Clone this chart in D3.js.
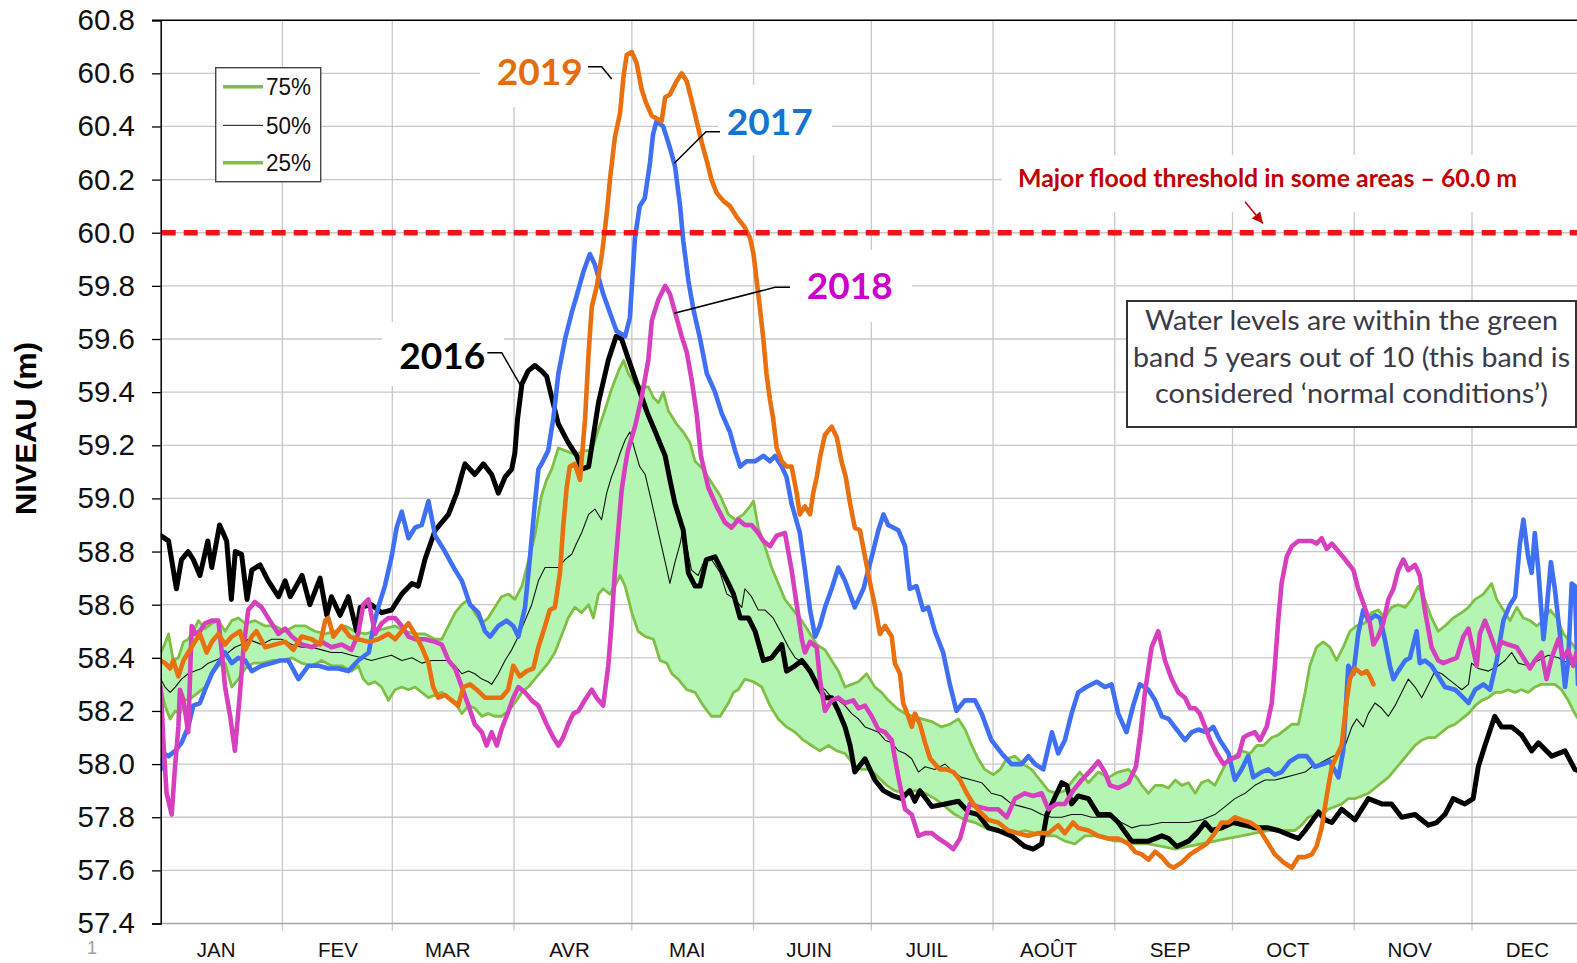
<!DOCTYPE html>
<html><head><meta charset="utf-8">
<script src="https://cdn.jsdelivr.net/npm/d3@7"></script>
<style>body{margin:0;background:#fff;} svg{display:block;}</style>
</head><body>
<svg id="c" width="1577" height="963"></svg>
<script>
// ---------- DATA ----------
const monthLabels = ["JAN","FEV","MAR","AVR","MAI","JUIN","JUIL","AOÛT","SEP","OCT","NOV","DEC"];
const monthStarts = [0,31,59,90,120,151,181,212,243,273,304,334];
const yTicks = [57.4,57.6,57.8,58.0,58.2,58.4,58.6,58.8,59.0,59.2,59.4,59.6,59.8,60.0,60.2,60.4,60.6,60.8];
const threshold = 60.0;
const legendItems = ["75%","50%","25%"];
const seriesNames = ["2016","2017","2018","2019"];

// [day of year, level m]
const p75 = [[0,58.42],[1,58.45],[2,58.49],[3.2,58.39],[4.5,58.40],[5.8,58.46],[7,58.47],[8.3,58.50],[9.6,58.54],[11.3,58.51],[13,58.53],[14.7,58.54],[16.4,58.50],[18.1,58.54],[19.8,58.55],[21.5,58.53],[24,58.54],[26.6,58.52],[29.1,58.52],[31.7,58.50],[34.2,58.52],[36.8,58.52],[39.3,58.50],[41.9,58.49],[44.4,58.50],[47,58.52],[49.5,58.50],[52,58.49],[54.6,58.50],[57.1,58.51],[59.7,58.52],[62.2,58.50],[64.8,58.49],[67.3,58.49],[69.9,58.47],[71.6,58.47],[73.3,58.52],[75,58.57],[76.7,58.60],[78.4,58.62],[80,58.57],[81.8,58.53],[83.4,58.55],[85.1,58.59],[86.8,58.63],[88.6,58.64],[90.2,58.62],[92,58.67],[93.6,58.76],[95.3,58.86],[97,59.01],[98.3,59.07],[99.6,59.11],[101.3,59.19],[103,59.18],[104.7,59.17],[106.4,59.17],[108,59.18],[109.8,59.18],[111.5,59.26],[113.1,59.33],[114.8,59.41],[116.6,59.48],[117.9,59.52],[119.1,59.47],[120.8,59.43],[122.5,59.42],[124.2,59.42],[125.5,59.38],[126.8,59.36],[128,59.40],[129.3,59.33],[131.4,59.28],[133.1,59.25],[134.8,59.21],[136.1,59.14],[138.2,59.11],[140.3,59.06],[142.5,59.01],[144.6,58.94],[146.3,58.92],[148.4,58.94],[150.1,58.97],[151,58.99],[152.2,58.89],[153.9,58.82],[155.6,58.74],[157.3,58.68],[159,58.62],[161.1,58.58],[163.3,58.54],[165,58.50],[167.1,58.45],[169.2,58.43],[170.9,58.39],[172.6,58.35],[174.3,58.29],[176,58.30],[177.7,58.31],[179.8,58.34],[181.9,58.29],[183.6,58.27],[185.3,58.24],[187.5,58.21],[189.6,58.19],[191.7,58.18],[193.8,58.17],[196.4,58.16],[198.9,58.14],[201,58.15],[203.2,58.17],[204.9,58.13],[206.6,58.07],[208.2,58.02],[209.9,57.98],[212.1,57.96],[213.8,57.98],[215.5,58.02],[217.6,58.03],[219.7,58.00],[221.8,57.98],[224,57.94],[226.1,57.90],[228.2,57.89],[230.3,57.90],[232.4,57.94],[234.1,57.97],[236.3,57.93],[238.8,57.97],[241.4,57.95],[243.9,57.97],[246.5,57.98],[248.6,57.95],[249.9,57.92],[251.6,57.89],[253.3,57.92],[255,57.92],[256.7,57.91],[258.4,57.94],[260.1,57.92],[261.8,57.93],[263.5,57.89],[265.1,57.93],[266.8,57.94],[268.5,57.92],[270.2,57.97],[271.9,58.02],[273.6,58.03],[275.3,58.05],[277.5,58.04],[279.2,58.07],[280.9,58.07],[283,58.10],[284.7,58.11],[286.4,58.13],[288.1,58.15],[289.8,58.15],[291.5,58.27],[292.7,58.37],[294.4,58.44],[296.1,58.46],[297.8,58.44],[299.5,58.39],[301.2,58.44],[302.9,58.50],[304.6,58.52],[306.7,58.53],[308.4,58.57],[310.1,58.58],[311.8,58.55],[313.5,58.59],[315.2,58.60],[317,58.59],[318.6,58.62],[320.3,58.67],[322,58.62],[323.7,58.55],[325.4,58.50],[327.1,58.52],[329.2,58.55],[331.4,58.57],[333.1,58.59],[334.8,58.62],[336.9,58.64],[339,58.68],[340.3,58.62],[342,58.58],[343.7,58.54],[345.4,58.59],[347.1,58.55],[348.8,58.54],[350.5,58.52],[352.2,58.54],[353.9,58.58],[355.6,58.55],[357.3,58.49],[358.5,58.47],[360.2,58.44],[362,58.40]];

const p25 = [[0,58.29],[1.1,58.22],[2.4,58.17],[3.7,58.20],[4.9,58.19],[6.2,58.24],[7.9,58.25],[9.6,58.27],[11.3,58.29],[13,58.34],[14.7,58.37],[16.4,58.38],[18.1,58.29],[19.8,58.32],[21.5,58.36],[23.6,58.38],[25.7,58.38],[28.3,58.39],[30.8,58.39],[33.4,58.40],[35.9,58.38],[38.5,58.37],[41,58.39],[43.5,58.37],[46.1,58.37],[48.6,58.35],[50.3,58.37],[51.6,58.32],[52.9,58.30],[54.6,58.31],[56.3,58.29],[58,58.24],[59.7,58.28],[61.4,58.29],[63.1,58.28],[64.8,58.29],[66.5,58.27],[68.2,58.25],[69.9,58.26],[71.6,58.27],[73.3,58.25],[75,58.23],[76.7,58.19],[78.4,58.22],[80,58.21],[81.8,58.18],[83.4,58.19],[85.1,58.18],[86.8,58.18],[88.6,58.20],[90.2,58.23],[92,58.27],[93.6,58.29],[95.3,58.32],[97,58.35],[98.7,58.38],[100.4,58.42],[102,58.48],[103.8,58.55],[105.5,58.59],[107.2,58.57],[109,58.60],[110.2,58.55],[111.5,58.64],[112.7,58.66],[114.4,58.64],[115.7,58.67],[117,58.71],[118.3,58.67],[120,58.57],[121.6,58.50],[123.5,58.48],[125.5,58.47],[127.2,58.39],[128.9,58.38],[130.2,58.34],[131.8,58.32],[134,58.28],[136.1,58.27],[138.2,58.22],[140.3,58.18],[142.5,58.18],[144.6,58.23],[145.9,58.27],[147.1,58.28],[148.8,58.32],[151,58.31],[153.1,58.29],[155.2,58.22],[157.3,58.17],[159.4,58.14],[161.6,58.12],[163.7,58.09],[165.8,58.07],[167.9,58.05],[170.1,58.07],[172.2,58.05],[174.3,58.04],[176.4,58.00],[178.5,57.98],[180.7,57.98],[182.8,57.95],[184.9,57.92],[187,57.90],[189.6,57.89],[192.1,57.90],[194.7,57.89],[197.2,57.87],[199.8,57.84],[202.3,57.81],[204.9,57.79],[207.4,57.78],[210,57.76],[212.5,57.75],[215,57.75],[217.6,57.74],[220.1,57.75],[222.7,57.74],[225.2,57.73],[227.8,57.73],[230.3,57.71],[232.9,57.70],[235.4,57.73],[237.9,57.73],[240.5,57.72],[243,57.71],[245.6,57.71],[248.2,57.70],[251.6,57.70],[255,57.69],[258.4,57.68],[261.8,57.69],[265.1,57.70],[268.5,57.71],[271.9,57.72],[275.3,57.73],[278.7,57.74],[282.1,57.75],[285.5,57.75],[288.9,57.75],[290.6,57.77],[292.3,57.80],[294,57.81],[295.7,57.81],[297.4,57.83],[299.1,57.84],[300.8,57.85],[302.5,57.87],[304.2,57.87],[305.9,57.88],[307.6,57.89],[309.3,57.91],[311,57.93],[312.7,57.95],[314.4,57.98],[316.1,58.01],[317.8,58.04],[319.5,58.07],[321.2,58.09],[322.9,58.10],[324.6,58.10],[326.3,58.12],[328,58.14],[329.7,58.15],[331.4,58.17],[333.1,58.19],[334.8,58.22],[336.5,58.24],[338.2,58.25],[339.8,58.27],[341.5,58.27],[343.2,58.28],[344.9,58.27],[346.6,58.28],[348.3,58.27],[350,58.29],[351.7,58.30],[353.4,58.30],[355.1,58.30],[356.8,58.28],[358.5,58.24],[360.2,58.19],[362,58.15]];

const p50 = [[0,58.32],[1.1,58.29],[2.4,58.27],[3.7,58.29],[5.3,58.32],[7,58.34],[8.7,58.35],[10.4,58.36],[12.1,58.38],[13.8,58.39],[15.5,58.40],[17.2,58.42],[18.9,58.44],[20.6,58.45],[22.3,58.47],[24,58.46],[25.7,58.45],[28.3,58.47],[30.8,58.47],[33.4,58.45],[35.9,58.44],[38.5,58.44],[41,58.43],[43.5,58.42],[46.1,58.42],[48.6,58.41],[51.2,58.40],[53.7,58.39],[56.3,58.40],[58.8,58.41],[61.4,58.39],[64,58.40],[66.5,58.38],[69,58.39],[71.6,58.39],[73.3,58.39],[75,58.37],[76.7,58.34],[78.4,58.35],[80,58.34],[81.8,58.32],[83.4,58.31],[84.3,58.30],[86,58.34],[87.7,58.39],[89.4,58.43],[91.1,58.48],[92.8,58.54],[94.5,58.60],[96.2,58.69],[97.9,58.74],[99.6,58.74],[101.3,58.74],[103,58.77],[104.7,58.79],[105.9,58.83],[107.2,58.87],[109,58.94],[110.6,58.96],[112.3,58.92],[113.6,59.02],[114.8,59.08],[116.1,59.13],[117,59.17],[118.3,59.22],[119.5,59.25],[120.8,59.18],[122,59.12],[123.4,59.09],[125,58.99],[126.8,58.87],[128.5,58.76],[129.7,58.68],[131,58.76],[132.3,58.83],[133.1,58.89],[135.2,58.73],[136.9,58.71],[138.6,58.77],[140.3,58.77],[142.5,58.72],[144.2,58.64],[146.3,58.62],[148,58.59],[148.8,58.66],[150.5,58.63],[152.2,58.58],[153.9,58.58],[156,58.55],[158.2,58.49],[159.9,58.44],[161.6,58.40],[163.7,58.38],[165.8,58.34],[167.5,58.30],[169.2,58.28],[170.9,58.25],[172.6,58.24],[174.3,58.22],[176,58.19],[177.7,58.17],[179.4,58.14],[181.1,58.13],[182.8,58.12],[184.5,58.09],[186.2,58.08],[187.9,58.05],[189.6,58.04],[191.3,58.02],[193,57.97],[194.7,57.99],[197.2,57.98],[199.8,58.00],[201.9,57.97],[204,57.95],[206.6,57.94],[209.1,57.93],[211.6,57.89],[214.2,57.88],[216.7,57.85],[219.3,57.84],[221.8,57.83],[224.4,57.81],[226.9,57.80],[229.5,57.80],[232,57.81],[234.6,57.81],[237.1,57.80],[239.7,57.80],[242.2,57.80],[244.7,57.78],[247.3,57.76],[249.8,57.77],[251.6,57.77],[255,57.78],[258.4,57.78],[261.8,57.78],[265.1,57.79],[268.5,57.81],[271.1,57.84],[273.6,57.87],[276.2,57.89],[278.7,57.92],[281.3,57.94],[283.8,57.94],[286.4,57.95],[288.9,57.96],[291.5,57.97],[293.2,57.99],[294.9,58.00],[297.4,58.02],[300,58.04],[301.7,58.07],[303.4,58.14],[304.6,58.17],[306.3,58.14],[307.6,58.19],[309.3,58.23],[311,58.21],[312.7,58.18],[314.4,58.22],[316.1,58.27],[317.8,58.32],[319.5,58.29],[321.2,58.25],[322.9,58.30],[324.6,58.35],[326.3,58.34],[328,58.32],[329.7,58.30],[331.4,58.28],[333.1,58.30],[333.9,58.38],[335.6,58.36],[338.2,58.35],[340.7,58.37],[342.4,58.39],[344.1,58.42],[345.8,58.38],[348.3,58.37],[350.9,58.39],[353.4,58.41],[356,58.40],[358.5,58.38],[360.2,58.37],[362,58.36]];

const y2016 = [[0,58.86],[2,58.84],[4,58.66],[5.3,58.77],[7,58.80],[8.3,58.77],[10,58.71],[12,58.84],[13,58.74],[15,58.90],[16.8,58.84],[18,58.62],[19,58.80],[20.6,58.79],[22,58.62],[23.2,58.73],[25.3,58.75],[27.4,58.69],[30,58.63],[31.7,58.69],[33,58.63],[36,58.71],[38,58.60],[40.6,58.70],[42.3,58.56],[43.5,58.63],[45.7,58.56],[47.8,58.63],[49.9,58.50],[50.8,58.59],[53.7,58.60],[56.3,58.57],[58.8,58.58],[61.4,58.64],[64,58.68],[65.6,58.67],[67.3,58.77],[69.9,58.88],[73.3,58.94],[75.4,59.02],[76.7,59.09],[77.5,59.13],[80,59.09],[82.2,59.13],[84.3,59.09],[86,59.02],[87.7,59.08],[89.4,59.11],[90.2,59.17],[90.9,59.30],[92,59.43],[93.6,59.48],[95.3,59.50],[97,59.48],[98.3,59.46],[99.6,59.38],[101.3,59.28],[103.8,59.21],[106,59.16],[107.2,59.11],[109,59.12],[111.5,59.36],[114,59.52],[116,59.61],[117.4,59.60],[119,59.53],[121.6,59.42],[124,59.32],[126,59.25],[128.5,59.16],[129.7,59.07],[131,58.98],[133.1,58.88],[134.4,58.72],[136.1,58.67],[137.4,58.67],[139,58.77],[141.2,58.78],[142.9,58.73],[144.6,58.68],[145.9,58.64],[147.6,58.55],[149.7,58.55],[151.4,58.50],[153.5,58.39],[155.6,58.40],[158.2,58.45],[159.4,58.35],[161.6,58.37],[163.3,58.39],[165.4,58.35],[167.5,58.29],[169.2,58.25],[170.9,58.25],[172.6,58.20],[174.3,58.14],[175.6,58.07],[176.8,57.97],[179.4,58.02],[181.9,57.94],[184.1,57.90],[186.6,57.88],[188.7,57.87],[190.8,57.90],[192.1,57.86],[193.4,57.90],[196.4,57.84],[199.8,57.85],[203.2,57.86],[205.7,57.82],[208.2,57.81],[210.8,57.76],[213.3,57.75],[216.7,57.73],[220.1,57.69],[222.2,57.68],[224.4,57.70],[225.7,57.81],[227.3,57.86],[229.5,57.93],[230.8,57.92],[232,57.85],[233.7,57.88],[236.3,57.87],[238.8,57.81],[241.8,57.81],[243.9,57.78],[247.3,57.71],[249.8,57.71],[251.6,57.71],[255,57.73],[256.7,57.72],[258.8,57.69],[261.8,57.71],[263.9,57.74],[266,57.78],[267.7,57.75],[270.2,57.76],[273.2,57.78],[276.2,57.77],[278.7,57.76],[282.1,57.76],[284.7,57.75],[288.1,57.73],[289.8,57.72],[291.5,57.75],[294.9,57.82],[296.6,57.79],[298.3,57.78],[300.8,57.83],[304.2,57.79],[307.6,57.87],[311,57.85],[313.5,57.85],[316.1,57.80],[319.5,57.81],[322.9,57.77],[325,57.78],[327.1,57.81],[329.2,57.87],[332.2,57.85],[334.3,57.87],[335.6,57.99],[337.3,58.07],[339.8,58.18],[341.5,58.14],[344.1,58.14],[346.6,58.11],[349.2,58.05],[350.9,58.08],[354.3,58.03],[357.7,58.05],[360.2,57.98],[362,57.97]];

const y2017 = [[0,57.98],[0.7,58.04],[2,58.03],[3.7,58.05],[5.3,58.08],[7,58.14],[8.3,58.22],[10,58.23],[11.3,58.28],[13,58.34],[14.7,58.38],[16.4,58.42],[18.1,58.38],[19.8,58.40],[21.5,58.39],[23.2,58.35],[25.7,58.37],[28.3,58.38],[30.4,58.39],[32.5,58.39],[35.1,58.32],[37.6,58.37],[40.2,58.37],[42.7,58.36],[45.2,58.36],[47.8,58.35],[50.3,58.39],[53,58.42],[54.2,58.52],[55.4,58.59],[57.1,58.67],[58.8,58.78],[60.1,58.89],[61.4,58.95],[63.1,58.85],[64.8,58.89],[66.5,58.90],[68.2,58.99],[69.9,58.86],[72.4,58.80],[75,58.73],[76.7,58.69],[78.8,58.60],[80.9,58.57],[82.6,58.50],[83.9,58.48],[86,58.52],[88.1,58.54],[89.8,58.52],[91.1,58.48],[92.8,58.59],[94,58.77],[95.3,58.98],[96.2,59.11],[97,59.13],[98.7,59.18],[100,59.30],[101.3,59.47],[103,59.60],[104.7,59.70],[105.9,59.76],[107.6,59.85],[109.3,59.92],[110.6,59.88],[112.7,59.77],[114.4,59.70],[116.1,59.63],[118.3,59.61],[119.5,59.68],[120.8,59.98],[122,60.10],[123.3,60.13],[124.6,60.26],[125.4,60.37],[126.3,60.42],[128,60.40],[129.7,60.32],[131,60.25],[132.3,60.10],[133.1,59.97],[134.4,59.82],[135.7,59.71],[137.4,59.60],[139.1,59.47],[141.2,59.40],[142.9,59.32],[145,59.25],[146.3,59.18],[147.6,59.12],[149.2,59.14],[151.4,59.14],[153.5,59.16],[155.2,59.14],[156.5,59.16],[158.2,59.12],[159.4,59.08],[160.7,58.98],[162.8,58.87],[164.1,58.73],[165.4,58.58],[166.7,58.48],[167.9,58.52],[169.2,58.59],[170.9,58.66],[172.6,58.74],[174.3,58.69],[176.8,58.59],[179,58.66],[181.1,58.78],[182.8,58.88],[184.1,58.94],[185.3,58.90],[187.9,58.88],[189.6,58.82],[190.8,58.66],[192.5,58.67],[194.2,58.58],[195.5,58.59],[197.2,58.50],[199.3,58.42],[201,58.30],[202.7,58.20],[204.8,58.24],[207.4,58.24],[209.1,58.19],[211.6,58.09],[214.2,58.04],[216.7,58.00],[219.3,58.00],[221,58.03],[222.7,58.00],[224.8,57.98],[227,58.12],[228.6,58.04],[230.3,58.09],[232,58.19],[233.7,58.27],[235.8,58.29],[238.4,58.31],[240.5,58.29],[242.2,58.30],[243.9,58.19],[246,58.12],[247.7,58.22],[249.4,58.30],[251.6,58.28],[253.3,58.24],[255,58.18],[256.7,58.17],[258.8,58.13],[260.9,58.09],[262.6,58.12],[264.3,58.13],[266.4,58.12],[268.1,58.14],[269.8,58.09],[272,58.04],[273.6,57.94],[275.3,57.98],[277,58.03],[278.3,57.95],[280.4,57.97],[282.1,57.98],[283.8,57.96],[285.5,57.97],[287.6,58.01],[289.8,58.03],[291.9,58.03],[294,57.99],[296.1,58.00],[297.8,58.01],[300,57.95],[301.2,58.05],[302.5,58.37],[303.8,58.34],[305,58.49],[306.3,58.58],[307.6,58.54],[309.3,58.56],[310.6,58.55],[311.8,58.47],[313.1,58.37],[314,58.32],[315.2,58.35],[317,58.39],[318.2,58.40],[319.9,58.50],[320.7,58.38],[322,58.39],[323.7,58.37],[325,58.34],[327.1,58.29],[329.7,58.28],[331.8,58.25],[333.1,58.23],[334.8,58.28],[336.9,58.30],[338.6,58.28],[340.3,58.39],[342,58.54],[343.7,58.60],[345,58.63],[346.2,58.83],[347.1,58.92],[348.3,58.78],[349.2,58.72],[350,58.87],[350.9,58.73],[352.2,58.47],[353,58.58],[354.1,58.76],[355.1,58.66],[356.4,58.49],[357.7,58.29],[358.5,58.39],[359.4,58.68],[360.2,58.67],[361,58.30]];

const y2018 = [[0,58.29],[0.7,58.08],[1.5,57.89],[2.8,57.81],[3.6,57.98],[4.5,58.14],[4.9,58.28],[5.8,58.24],[7,58.12],[7.9,58.52],[8.7,58.49],[10,58.50],[11.3,58.53],[13,58.54],[14.7,58.54],[15.5,58.43],[16.4,58.29],[17.7,58.18],[18.9,58.05],[20.2,58.27],[21.1,58.44],[22.3,58.58],[24,58.61],[25.7,58.59],[27.8,58.54],[30,58.49],[31.7,58.51],[33.4,58.48],[35.9,58.45],[38.5,58.44],[41,58.46],[43.5,58.44],[46.1,58.45],[48.6,58.43],[50.3,58.49],[51.6,58.60],[52.9,58.62],[54.6,58.49],[56.3,58.53],[58,58.55],[59.7,58.55],[61.4,58.52],[63.1,58.48],[64.8,58.47],[67.3,58.47],[69.9,58.46],[71.6,58.45],[73.3,58.39],[75,58.36],[76.7,58.29],[78.4,58.22],[80,58.15],[81.8,58.12],[83,58.07],[84.3,58.12],[85.6,58.07],[86.8,58.13],[88.6,58.20],[89.8,58.25],[91.1,58.29],[92.8,58.27],[94.5,58.24],[96.2,58.22],[98.3,58.15],[100,58.10],[101.3,58.07],[102.5,58.10],[103.8,58.15],[105.1,58.19],[106.4,58.20],[108,58.24],[109.8,58.28],[111,58.25],[112.7,58.22],[114,58.37],[114.8,58.52],[115.7,58.73],[116.6,58.89],[117.4,59.03],[118.3,59.12],[119,59.18],[120.8,59.27],[122.5,59.38],[124.2,59.52],[125.1,59.67],[126.8,59.75],[128.5,59.80],[129.7,59.77],[131.4,59.68],[132.7,59.61],[134,59.55],[135.2,59.45],[136.5,59.32],[137.6,59.16],[139.5,59.04],[141.6,58.97],[143.7,58.91],[145.4,58.89],[147.1,58.92],[148.8,58.90],[150.5,58.90],[152.2,58.87],[153.5,58.84],[155.2,58.82],[156.9,58.86],[159,58.87],[160.7,58.73],[162,58.60],[163.3,58.47],[164.1,58.42],[165.4,58.46],[167.1,58.44],[167.9,58.32],[169.2,58.20],[170.9,58.24],[172.6,58.25],[174.3,58.23],[176.4,58.24],[177.7,58.21],[179.4,58.22],[181.1,58.18],[182.8,58.13],[184.5,58.12],[186.2,58.09],[187.9,57.95],[189.6,57.83],[191.3,57.81],[193,57.73],[194.7,57.74],[196.4,57.74],[198.1,57.72],[200.2,57.70],[201.9,57.68],[203.6,57.72],[204.9,57.79],[206.1,57.85],[208.2,57.84],[210.8,57.83],[213.3,57.83],[215.5,57.80],[217.6,57.87],[220.1,57.89],[222.2,57.88],[224.4,57.89],[226.1,57.83],[228.2,57.85],[230.3,57.85],[232.4,57.90],[234.6,57.94],[237.1,57.98],[238.8,58.01],[240.5,57.97],[241.8,57.92],[243.9,57.91],[246.5,57.93],[248.4,57.99],[249.6,58.12],[250.7,58.27],[252.4,58.44],[254.1,58.50],[255.8,58.39],[257.5,58.32],[259.2,58.27],[260.9,58.25],[262.2,58.21],[263.5,58.21],[264.7,58.19],[266,58.14],[267.3,58.09],[269,58.04],[270.7,58.00],[272.8,58.02],[274.5,58.03],[275.8,58.10],[277,58.11],[278.7,58.12],[280,58.09],[281.7,58.14],[283,58.23],[283.8,58.37],[284.7,58.55],[285.5,58.68],[286.8,58.78],[288.1,58.82],[289.8,58.84],[291.5,58.84],[293.2,58.84],[294.4,58.83],[295.7,58.85],[297,58.81],[298.3,58.83],[300,58.80],[301.7,58.77],[303.8,58.73],[305,58.66],[306.7,58.59],[308,58.53],[308.9,58.45],[310.1,58.48],[311.4,58.53],[312.7,58.62],[314,58.66],[315.2,58.73],[316.5,58.77],[317.8,58.73],[319.5,58.75],[320.7,58.71],[322,58.58],[323.7,58.44],[325.4,58.39],[326.7,58.38],[328.4,58.39],[330.1,58.40],[331.8,58.48],[333.1,58.51],[334.3,58.43],[335.2,58.37],[336,58.49],[337.3,58.54],[338.6,58.49],[340.3,58.42],[341.5,58.46],[343.2,58.45],[345.4,58.44],[347.1,58.40],[348.8,58.36],[350,58.39],[351.7,58.42],[353,58.32],[354.3,58.40],[356,58.47],[357.3,58.40],[358.5,58.43],[359.8,58.37],[360.6,58.42],[362,58.40]];

const y2019 = [[0,58.39],[1.1,58.38],[2.4,58.36],[3.2,58.39],[4.5,58.33],[5.8,58.39],[7,58.42],[8.7,58.46],[10,58.49],[11.7,58.42],[13,58.46],[14.7,58.49],[16.4,58.45],[18.1,58.48],[20.2,58.50],[21.5,58.43],[23.2,58.48],[24.4,58.50],[26.6,58.44],[29.1,58.45],[31.7,58.46],[33.8,58.43],[35.9,58.48],[38.5,58.47],[40.6,58.45],[41.9,58.54],[42.7,58.55],[44,58.48],[46.1,58.52],[48.2,58.48],[50.3,58.47],[53,58.46],[55.4,58.47],[58,58.49],[59.7,58.47],[61.4,58.50],[63.1,58.53],[64.8,58.49],[66.5,58.44],[68.2,58.38],[69.4,58.29],[70.7,58.25],[72.4,58.26],[74.1,58.24],[75.8,58.22],[77.1,58.29],[78.8,58.30],[80.5,58.28],[82.6,58.25],[84.7,58.25],[86.8,58.25],[88.5,58.28],[89.8,58.37],[91.5,58.33],[93.2,58.35],[94.9,58.36],[96.2,58.44],[97.9,58.52],[99.1,58.58],[100.4,58.59],[101.7,58.72],[102.5,58.89],[103.4,59.04],[104.2,59.12],[105.5,59.13],[106.8,59.07],[108.1,59.30],[109,59.55],[109.8,59.72],[111.1,59.80],[112.4,59.92],[113.6,60.07],[114.5,60.21],[115.7,60.36],[117,60.45],[117.9,60.59],[118.7,60.67],[120,60.68],[121.2,60.64],[122.5,60.54],[123.6,60.49],[125.1,60.44],[126.3,60.43],[127.6,60.42],[128.5,60.51],[129.7,60.52],[131.4,60.57],[132.7,60.60],[134,60.57],[135.2,60.50],[136.5,60.42],[137.8,60.34],[139.1,60.27],[140.3,60.20],[141.6,60.15],[143.3,60.12],[145,60.10],[146.7,60.06],[148.8,60.02],[150.1,59.98],[151,59.92],[151.8,59.82],[152.6,59.72],[153.5,59.60],[154.3,59.47],[155.2,59.37],[156,59.30],[156.9,59.19],[158.2,59.14],[159.4,59.12],[160.7,59.12],[162,59.02],[162.8,58.94],[164.1,58.97],[165.4,58.94],[166.2,59.02],[167.1,59.08],[168,59.16],[169.2,59.24],[170.9,59.27],[172.2,59.23],[173.4,59.14],[174.5,59.08],[175.6,58.98],[176.8,58.89],[178.1,58.88],[179.4,58.78],[180.7,58.68],[182,58.59],[183.2,58.49],[184.5,58.52],[186.2,58.48],[187,58.38],[188.3,58.34],[189.1,58.23],[190.4,58.18],[191.3,58.14],[192.1,58.19],[193.4,58.15],[194.7,58.08],[196,58.02],[197.2,58.00],[198.5,57.98],[200.2,57.98],[201.9,57.97],[203.6,57.94],[205.3,57.89],[207,57.85],[208.7,57.82],[210.8,57.79],[213.3,57.78],[215.9,57.75],[218.4,57.74],[221,57.73],[223.5,57.74],[226.1,57.74],[228.6,57.77],[230.3,57.74],[232.4,57.78],[233.7,57.76],[236.3,57.75],[238.8,57.73],[241.4,57.72],[243.9,57.72],[246.5,57.70],[248.2,57.67],[249.9,57.66],[251.6,57.64],[253.3,57.67],[255,57.65],[256.7,57.62],[258,57.61],[260.1,57.63],[262.2,57.66],[264.3,57.68],[266.4,57.70],[268.5,57.74],[270.2,57.78],[272,57.78],[273.6,57.80],[275.3,57.79],[277.5,57.78],[279.6,57.76],[281.7,57.71],[283.8,57.66],[286,57.63],[288.1,57.61],[289.8,57.65],[291.5,57.65],[293.2,57.66],[294.4,57.69],[295.7,57.76],[297,57.88],[298.3,57.99],[299.5,58.03],[300.8,58.07],[302.1,58.24],[302.9,58.32],[304.2,58.36],[305.9,58.34],[307.2,58.35],[308,58.33],[308.9,58.30]];

// ---------- DRAW ----------
const svg = d3.select("#c");
const X0 = 160.7, Y0 = 20.2, Y1 = 923.5, W = 1577;
const x = d3.scaleLinear().domain([0,365]).range([X0, X0 + 365*3.926]);
const y = d3.scaleLinear().domain([57.4,60.8]).range([Y1, Y0]);

svg.append("rect").attr("width",1577).attr("height",963).attr("fill","#fff");
svg.append("defs").html(`
  <clipPath id="plot"><rect x="${X0}" y="${Y0}" width="${W-X0}" height="${Y1-Y0}"/></clipPath>
  <marker id="arr" viewBox="0 0 10 10" refX="10" refY="5" markerUnits="userSpaceOnUse" markerWidth="14" markerHeight="11" orient="auto">
    <path d="M0,0 L10,5 L0,10 z" fill="#c00000"/></marker>`);

const grid = svg.append("g").attr("stroke","#c8c8c8").attr("stroke-width",1.3);
yTicks.filter(v => v > 57.45 && v < 60.75).forEach(v => {
  grid.append("line").attr("x1",X0).attr("x2",W).attr("y1",y(v)).attr("y2",y(v));
});
monthStarts.slice(1).forEach(d => {
  grid.append("line").attr("x1",x(d)).attr("x2",x(d)).attr("y1",Y0).attr("y2",Y1 + 7);
});

// white backgrounds behind annotations
const bg = svg.append("g").attr("fill","#fff");
[[480,21,108,86],[718,85,114,70],[790,250,122,72],[382,322,122,64],[1002,155,575,57]].forEach(r => {
  bg.append("rect").attr("x",r[0]).attr("y",r[1]).attr("width",r[2]).attr("height",r[3]);
});

// text box
svg.append("rect").attr("x",1127).attr("y",301).attr("width",449).attr("height",126)
  .attr("fill","#fff").attr("stroke","#333").attr("stroke-width",2);

const plot = svg.append("g").attr("clip-path","url(#plot)");
const line = d3.line().x(d => x(d[0])).y(d => y(d[1]));

// green band
const bandPath = line(p75) + "L" + line(p25.slice().reverse()).slice(1) + "Z";
plot.append("path").attr("d",bandPath).attr("fill","#b5f5b3").attr("stroke","none");
plot.append("path").attr("d",line(p75)).attr("fill","none").attr("stroke","#7fbf45").attr("stroke-width",2.8).attr("stroke-linejoin","round");
plot.append("path").attr("d",line(p25)).attr("fill","none").attr("stroke","#7fbf45").attr("stroke-width",2.8).attr("stroke-linejoin","round");
plot.append("path").attr("d",line(p50)).attr("fill","none").attr("stroke","#111").attr("stroke-width",1.1).attr("stroke-linejoin","round");

const series = [
  {name:"2016", data:y2016, color:"#000000", w:5},
  {name:"2017", data:y2017, color:"#3f6ff2", w:4.6},
  {name:"2018", data:y2018, color:"#d63fbd", w:4.6},
  {name:"2019", data:y2019, color:"#e8700f", w:4.6}
];
series.forEach(s => {
  plot.append("path").attr("d",line(s.data)).attr("fill","none").attr("stroke",s.color)
    .attr("stroke-width",s.w).attr("stroke-linejoin","round").attr("stroke-linecap","round");
});

// threshold line
svg.append("line").attr("x1",X0+1).attr("x2",W).attr("y1",y(threshold)).attr("y2",y(threshold))
  .attr("stroke","#f01414").attr("stroke-width",5.5).attr("stroke-dasharray","14,8");

// axes
svg.append("line").attr("x1",X0).attr("x2",W).attr("y1",Y1).attr("y2",Y1).attr("stroke","#a6a6a6").attr("stroke-width",1.6);
svg.append("line").attr("x1",152).attr("x2",W).attr("y1",Y0).attr("y2",Y0).attr("stroke","#000").attr("stroke-width",1.4);

const yAxis = d3.axisLeft(y).tickValues(yTicks).tickFormat(d3.format(".1f")).tickSize(8.7).tickPadding(17);
const gy = svg.append("g").attr("transform",`translate(${X0},0)`).call(yAxis);
gy.select(".domain").attr("stroke","#000").attr("stroke-width",1.5);
gy.selectAll(".tick line").attr("stroke","#000").attr("stroke-width",1.3);
gy.selectAll(".tick text").attr("font-family","'Liberation Sans', Arial, sans-serif").attr("font-size",29.5).attr("fill","#111");

const xAxis = d3.axisBottom(x).tickValues(monthStarts.map(d => d + 14))
  .tickFormat((d,i) => monthLabels[i]).tickSize(0).tickPadding(19);
const gx = svg.append("g").attr("transform",`translate(0,${Y1})`).call(xAxis);
gx.select(".domain").remove();
gx.selectAll(".tick text").attr("font-family","'Liberation Sans', Arial, sans-serif").attr("font-size",20.5).attr("fill","#111");

// axis title
svg.append("text").attr("transform","translate(36,428.5) rotate(-90)").attr("text-anchor","middle")
  .attr("font-family","'Liberation Sans', Arial, sans-serif").attr("font-weight","bold").attr("font-size",29)
  .attr("textLength",173).attr("lengthAdjust","spacingAndGlyphs").text("NIVEAU (m)");

// slide number
svg.append("text").attr("x",92).attr("y",954).attr("text-anchor","middle").attr("fill","#a0a0a0")
  .attr("font-family","'Liberation Sans', Arial, sans-serif").attr("font-size",18).text("1");

// legend
const lg = svg.append("g");
lg.append("rect").attr("x",215.7).attr("y",67.7).attr("width",105).attr("height",114)
  .attr("fill","#fff").attr("stroke","#444").attr("stroke-width",1.4);
const lgY = [86.7,125.3,162.7];
legendItems.forEach((t,i) => {
  lg.append("line").attr("x1",223).attr("x2",263).attr("y1",lgY[i]).attr("y2",lgY[i])
    .attr("stroke", i===1 ? "#111" : "#7fbf45").attr("stroke-width", i===1 ? 1 : 3.5);
  lg.append("text").attr("x",266).attr("y",lgY[i]+8.3).attr("font-family","'Liberation Sans', Arial, sans-serif")
    .attr("font-size",23).attr("fill","#111").attr("textLength",45).attr("lengthAdjust","spacingAndGlyphs").text(t);
});

// year labels with leaders
const labels = [
  {t:"2016", x:399.3, y:369.3, c:"#000000", lead:[[487.3,352.7],[501.7,352.7],[520.7,385.7]]},
  {t:"2017", x:726.7, y:135, c:"#1474d0", lead:[[720,131.7],[706,131.7],[674.3,163.3]]},
  {t:"2018", x:806.7, y:299.3, c:"#cc00cc", lead:[[790,287.3],[775,287.3],[674.3,313.3]]},
  {t:"2019", x:496.7, y:85, c:"#e46c0a", lead:[[588,66.7],[601.7,66.7],[611.7,79]]}
];
labels.forEach(l => {
  svg.append("text").attr("x",l.x).attr("y",l.y).attr("fill",l.c)
    .attr("font-family","Lato, 'Open Sans', sans-serif").attr("font-weight","bold").attr("font-size",37)
    .attr("textLength",86).attr("lengthAdjust","spacingAndGlyphs").text(l.t);
  svg.append("path").attr("d",d3.line()(l.lead)).attr("fill","none").attr("stroke","#000").attr("stroke-width",1.5);
});

// flood threshold annotation
svg.append("text").attr("x",1018).attr("y",187).attr("fill","#c00000")
  .attr("font-family","Lato, 'Open Sans', sans-serif").attr("font-weight","bold").attr("font-size",24)
  .attr("textLength",499).attr("lengthAdjust","spacingAndGlyphs")
  .text("Major flood threshold in some areas – 60.0 m");
svg.append("line").attr("x1",1245).attr("y1",201.7).attr("x2",1263).attr("y2",223.5)
  .attr("stroke","#c00000").attr("stroke-width",1.5).attr("marker-end","url(#arr)");

// text box lines
const boxLines = [
  {t:"Water levels are within the green", y:330, w:413},
  {t:"band 5 years out of 10 (this band is", y:366.7, w:437},
  {t:"considered ‘normal conditions’)", y:403, w:393}
];
boxLines.forEach(b => {
  svg.append("text").attr("x",1351.5).attr("y",b.y).attr("text-anchor","middle").attr("fill","#3a3a48")
    .attr("font-family","Lato, 'Open Sans', sans-serif").attr("font-size",26)
    .attr("textLength",b.w).attr("lengthAdjust","spacingAndGlyphs").text(b.t);
});
</script>
</body></html>
